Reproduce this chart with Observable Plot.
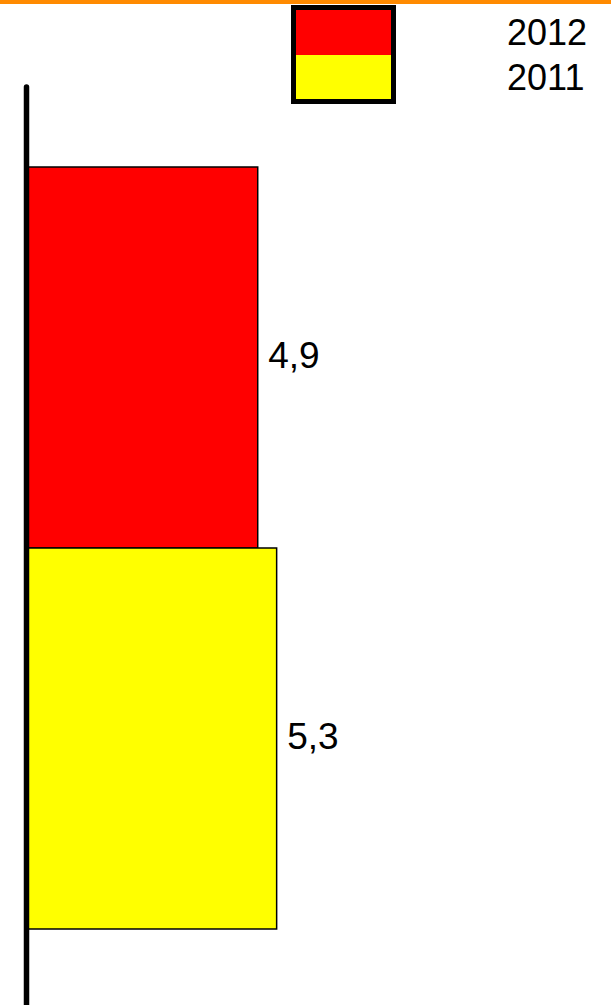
<!DOCTYPE html>
<html>
<head>
<meta charset="utf-8">
<script src="https://cdn.jsdelivr.net/npm/d3@7"></script>
<script src="https://cdn.jsdelivr.net/npm/@observablehq/plot@0.6"></script>
<style>
  html, body { margin: 0; padding: 0; background: #fff; }
  body { width: 611px; height: 1005px; position: relative; overflow: hidden; font-family: "Liberation Sans", Arial, sans-serif; }
  #topline { position: absolute; left: 0; top: 0; width: 611px; height: 4px; background: #ff8a00; }
  #legendbox { position: absolute; left: 291px; top: 5px; width: 105px; height: 99px; box-sizing: border-box; border: 5px solid #000; display: flex; flex-direction: column; }
  #legendbox div { flex: 1; }
  .leglabel { position: absolute; left: 507px; font-size: 36px; line-height: 1; color: #000; }
  #chart { position: absolute; left: 0; top: 0; }
</style>
</head>
<body>
<div id="chart"></div>
<div id="topline"></div>
<div id="legendbox"></div>
<script>
// Data
const years = ["2012", "2011"];
const values = [4.9, 5.3];
const colors = ["#ff0000", "#ffff00"];
const legendLabels = ["2012", "2011"];

const data = years.map((y, i) => ({year: y, value: values[i], color: colors[i]}));
const fmt = v => String(v).replace(".", ",");

const plot = Plot.plot({
  width: 611,
  height: 1005,
  marginLeft: 26,
  marginRight: 0,
  marginTop: 166,
  marginBottom: 76,
  style: {background: "transparent", fontFamily: "Liberation Sans, Arial, sans-serif"},
  x: {domain: [0, 12.37], axis: null},
  y: {domain: years, padding: 0, axis: null},
  marks: [
    Plot.barX(data, {x: "value", y: "year", fill: "color", stroke: "#000", strokeWidth: 1.5}),
    Plot.text(data, {x: "value", y: "year", text: d => fmt(d.value), textAnchor: "start", dx: 10, dy: -2, fontSize: 37, fill: "#000"}),
    Plot.ruleX([0], {stroke: "#000", strokeWidth: 5.5, strokeLinecap: "round", insetTop: -79, insetBottom: -90})
  ]
});
document.getElementById("chart").appendChild(plot);

// Legend
const box = document.getElementById("legendbox");
colors.forEach(c => { const d = document.createElement("div"); d.style.background = c; box.appendChild(d); });
legendLabels.forEach((l, i) => {
  const t = document.createElement("div");
  t.className = "leglabel";
  t.textContent = l;
  t.style.top = (15 + i * 45) + "px";
  document.body.appendChild(t);
});
</script>
</body>
</html>
